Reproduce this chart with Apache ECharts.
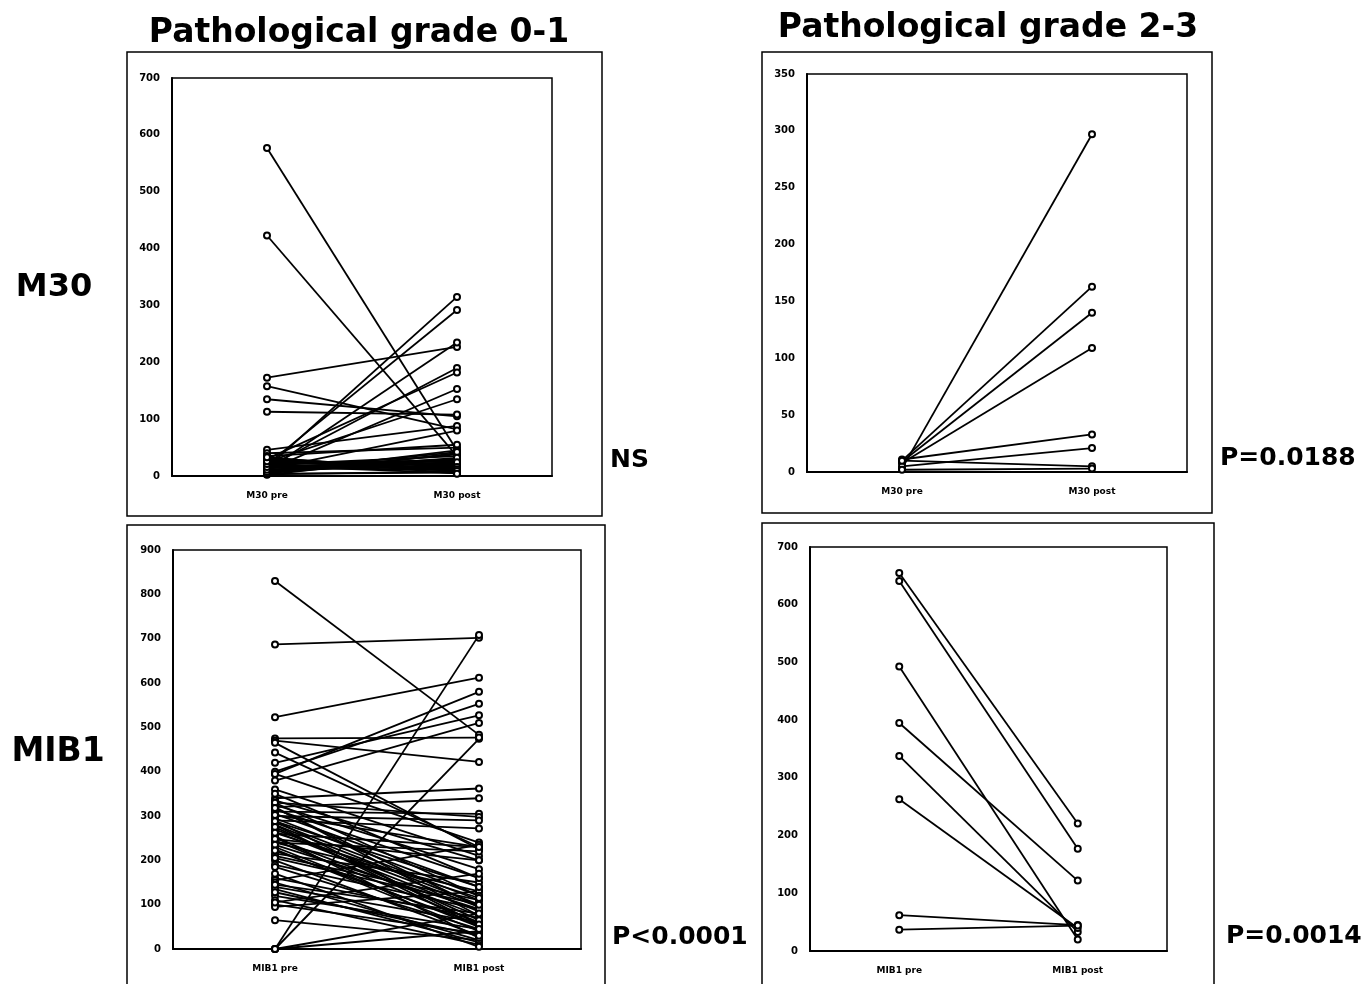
<!DOCTYPE html>
<html>
<head>
<meta charset="utf-8">
<script src="https://cdn.jsdelivr.net/npm/echarts/dist/echarts.min.js"></script>
<style>
html,body{margin:0;padding:0;background:#fff;}
#chart{width:1361px;height:984px;}
</style>
</head>
<body>
<div id="chart"></div>
<script>
// ---- data ----
const categoriesM30 = ['M30 pre', 'M30 post'];
const categoriesMIB1 = ['MIB1 pre', 'MIB1 post'];

const titles = ['Pathological grade 0-1', 'Pathological grade 2-3'];
const rowLabels = ['M30', 'MIB1'];
const statLabels = ['NS', 'P=0.0188', 'P<0.0001', 'P=0.0014'];

// M30, pathological grade 0-1
const m30Grade01Pre  = [577, 423, 173, 158, 135, 113, 46, 40, 15, 20, 10, 15, 30, 10, 25, 12, 35, 5, 2, 5, 8, 10, 12, 15, 18, 20, 22, 25, 28, 30, 3, 6, 9, 14, 17, 24, 27, 32, 4, 7, 11, 16, 21, 26, 33];
const m30Grade01Post = [45, 35, 227, 82, 105, 108, 88, 50, 315, 292, 235, 190, 182, 153, 135, 80, 55, 45, 40, 30, 25, 20, 15, 10, 5, 35, 28, 22, 18, 12, 8, 38, 42, 30, 26, 20, 14, 10, 6, 32, 24, 16, 12, 9, 4];

// M30, pathological grade 2-3
const m30Grade23Pre  = [3, 10, 9, 8, 11, 5, 10, 2];
const m30Grade23Post = [297, 163, 140, 109, 33, 21, 5, 3];

// MIB1, pathological grade 0-1
const mib1Grade01Pre  = [830, 687, 523, 0, 0, 395, 400, 420, 380, 475, 470, 443, 340, 320, 310, 330, 300, 290, 395, 465, 360, 335, 325, 315, 305, 295, 285, 280, 270, 265, 260, 250, 245, 240, 230, 225, 215, 210, 200, 190, 160, 155, 150, 140, 135, 120, 110, 100, 95, 65, 0, 0, 350, 280, 255, 170, 105, 240, 320, 290, 330, 318, 302, 288, 275, 262, 248, 235, 222, 205, 185, 145, 128];
const mib1Grade01Post = [483, 702, 612, 708, 474, 580, 553, 527, 510, 477, 422, 230, 362, 340, 305, 298, 290, 272, 240, 225, 210, 200, 180, 160, 140, 120, 110, 100, 95, 85, 230, 75, 60, 220, 50, 40, 150, 110, 30, 90, 70, 235, 20, 60, 15, 45, 10, 35, 130, 20, 80, 40, 160, 50, 25, 5, 170, 130, 75, 55, 120, 95, 230, 140, 65, 115, 200, 90, 55, 100, 45, 80, 30];

// MIB1, pathological grade 2-3
const mib1Grade23Pre  = [655, 641, 493, 395, 338, 263, 62, 37];
const mib1Grade23Post = [221, 177, 20, 122, 33, 40, 45, 44];

const yMax = [700, 350, 900, 700];
const yStep = [100, 50, 100, 100];

// ---- layout ----
const grids = [
  {left: 172, top: 78, width: 380, height: 398},
  {left: 807, top: 74, width: 380, height: 398},
  {left: 173, top: 550, width: 408, height: 399},
  {left: 810, top: 547, width: 357, height: 404}
];
const frames = [
  {x: 127, y: 52, w: 475, h: 464},
  {x: 762, y: 52, w: 450, h: 461},
  {x: 127, y: 525, w: 478, h: 480},
  {x: 762, y: 523, w: 452, h: 480}
];

const panels = [
  {cats: categoriesM30, pre: m30Grade01Pre, post: m30Grade01Post},
  {cats: categoriesM30, pre: m30Grade23Pre, post: m30Grade23Post},
  {cats: categoriesMIB1, pre: mib1Grade01Pre, post: mib1Grade01Post},
  {cats: categoriesMIB1, pre: mib1Grade23Pre, post: mib1Grade23Post}
];

const FONT = 'DejaVu Sans';
const xAxis = [], yAxis = [], series = [];
panels.forEach((p, k) => {
  xAxis.push({
    type: 'category', gridIndex: k, data: p.cats, boundaryGap: true,
    axisLine: {show: true, lineStyle: {color: '#000', width: 2}},
    axisTick: {show: false},
    axisLabel: {color: '#000', fontFamily: FONT, fontWeight: 'bold', fontSize: 9, margin: 15}
  });
  yAxis.push({
    type: 'value', gridIndex: k, min: 0, max: yMax[k], interval: yStep[k],
    axisLine: {show: true, lineStyle: {color: '#000', width: 2}},
    axisTick: {show: false},
    splitLine: {show: false},
    axisLabel: {color: '#000', fontFamily: FONT, fontWeight: 'bold', fontSize: 10, margin: 12}
  });
  p.pre.forEach((v, i) => {
    series.push({
      type: 'line', xAxisIndex: k, yAxisIndex: k,
      data: [v, p.post[i]],
      symbol: 'emptyCircle', symbolSize: 6,
      lineStyle: {color: '#000', width: 1.8},
      itemStyle: {color: '#000', borderColor: '#000', borderWidth: 1.5},
      silent: true, animation: false
    });
  });
});

const graphic = [];
frames.forEach(f => {
  graphic.push({type: 'rect', shape: {x: f.x, y: f.y, width: f.w, height: f.h},
    style: {fill: 'none', stroke: '#000', lineWidth: 1.5}, silent: true});
});
const bigText = (text, x, y, size, align) => ({
  type: 'text', x: x, y: y, silent: true,
  style: {text: text, fill: '#000', font: 'bold ' + size + 'px "' + FONT + '"', textAlign: align, textVerticalAlign: 'middle'}
});
graphic.push(bigText(titles[0], 359, 33, 33, 'center'));
graphic.push(bigText(titles[1], 988, 28, 33, 'center'));
graphic.push(bigText(rowLabels[0], 54, 288, 32, 'center'));
graphic.push(bigText(rowLabels[1], 58, 752, 33, 'center'));
graphic.push(bigText(statLabels[0], 610, 460, 25, 'left'));
graphic.push(bigText(statLabels[1], 1220, 458, 25, 'left'));
graphic.push(bigText(statLabels[2], 612, 937, 25, 'left'));
graphic.push(bigText(statLabels[3], 1226, 936, 25, 'left'));

const chart = echarts.init(document.getElementById('chart'), null, {renderer: 'canvas'});
chart.setOption({
  backgroundColor: '#fff',
  animation: false,
  grid: grids.map(g => Object.assign({show: true, borderColor: '#000', borderWidth: 1.5, backgroundColor: 'transparent', containLabel: false}, g)),
  xAxis: xAxis,
  yAxis: yAxis,
  series: series,
  graphic: graphic
});
</script>
</body>
</html>
